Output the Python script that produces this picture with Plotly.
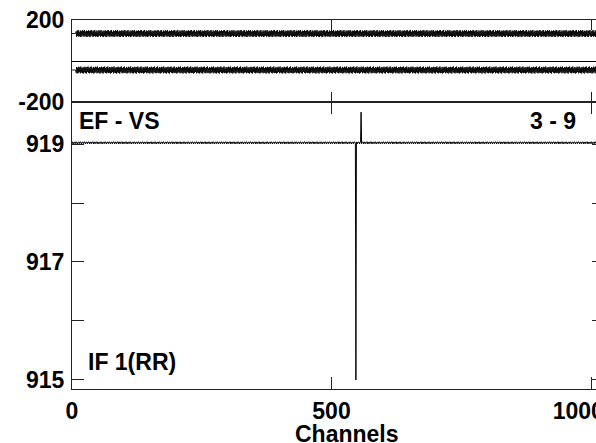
import plotly.graph_objects as go

# ---------------- data ----------------
N_CHANNELS = 1024
channels = list(range(N_CHANNELS))

# phase panel (degrees): two baselines with a dense channel-to-channel ripple
PHASE_A_LEVEL = 134
PHASE_B_LEVEL = -44
PHASE_RIPPLE = [16, -15, 12, -17, 15, -9, 17, -14, 10, -16, 14, -12, 17, -15, 8, -13,
                15, -17, 11, -14, 16, -10, 13, -16, 17, -12, 9, -15, 14, -17, 12, -11]
PHASE_FLAT_LEAD = 8          # first channels without ripple

# amplitude panel
AMP_LEVEL = 919.03
AMP_RIPPLE = [0.0, 0.005, -0.03, 0.0, 0.004, 0.0, -0.025, 0.003]
SPIKE_CHANNELS = [547, 557]
SPIKE_VALUES = [915.0, 919.54]

X_TICKS = [0, 500, 1000]
X_TICK_TEXT = ["0", "500", "1000\u2007\u2007"]
AMP_TICKS = [915, 916, 917, 918, 919]
AMP_TICK_TEXT = ["915", "", "917", "", "919"]
PHASE_TICKS = [-200, 200]
PHASE_TICK_TEXT = ["-200", "200"]

# ---------------- build series ----------------
phase_a = [PHASE_A_LEVEL + (0 if c < PHASE_FLAT_LEAD else PHASE_RIPPLE[c % len(PHASE_RIPPLE)]) for c in channels]
phase_b = [PHASE_B_LEVEL + (0 if c < PHASE_FLAT_LEAD else PHASE_RIPPLE[(c + 7) % len(PHASE_RIPPLE)]) for c in channels]
amp = [AMP_LEVEL + AMP_RIPPLE[c % len(AMP_RIPPLE)] for c in channels]
for ch, v in zip(SPIKE_CHANNELS, SPIKE_VALUES):
    amp[ch] = v

FONT = "Liberation Sans, Arial, Helvetica, sans-serif"
tickfont = dict(family=FONT, size=23, color="black", weight="bold")
LINE = "#222222"

fig = go.Figure()
fig.add_trace(go.Scatter(x=channels, y=phase_a, xaxis="x2", yaxis="y2", mode="lines",
                         line=dict(color="black", width=0.9), showlegend=False, hoverinfo="skip"))
fig.add_trace(go.Scatter(x=channels, y=phase_b, xaxis="x2", yaxis="y2", mode="lines",
                         line=dict(color="black", width=0.9), showlegend=False, hoverinfo="skip"))
fig.add_trace(go.Scatter(x=channels, y=amp, xaxis="x", yaxis="y", mode="lines",
                         line=dict(color="black", width=1), showlegend=False, hoverinfo="skip"))
# invisible trace for right-side tick axis
fig.add_trace(go.Scatter(x=[0], y=[917], xaxis="x", yaxis="y3", mode="markers",
                         marker=dict(opacity=0), showlegend=False, hoverinfo="skip"))

XR = [0, 1009.6]
top_split = (389 - 102) / 369

fig.update_layout(
    width=596, height=443,
    margin=dict(l=72, r=0, t=20, b=54),
    paper_bgcolor="white", plot_bgcolor="white",
    xaxis=dict(domain=[0, 1], anchor="y", range=XR, tickvals=X_TICKS, ticktext=X_TICK_TEXT,
               ticks="inside", ticklen=12, tickcolor=LINE, showline=True, linecolor=LINE,
               linewidth=1, mirror="ticks", showgrid=False, zeroline=False,
               tickfont=tickfont, ticklabelstandoff=1, ticklabeloverflow="allow",
               automargin=False),
    yaxis=dict(domain=[0, top_split], anchor="x", range=[914.847, 919.712],
               tickvals=AMP_TICKS, ticktext=AMP_TICK_TEXT, ticks="inside", ticklen=12,
               tickcolor=LINE, showline=True, linecolor=LINE, linewidth=1, mirror=False,
               showgrid=False, zeroline=False, tickfont=tickfont, ticklabelstandoff=2,
               automargin=False),
    yaxis3=dict(overlaying="y", side="right", anchor="x", range=[914.847, 919.712],
                tickvals=AMP_TICKS, ticks="inside", ticklen=4, tickcolor=LINE,
                showticklabels=False, showline=False, showgrid=False, zeroline=False),
    xaxis2=dict(domain=[0, 1], anchor="y2", range=XR, matches="x", tickvals=X_TICKS,
                showticklabels=False, ticks="inside", ticklen=10, tickcolor=LINE,
                showline=True, linecolor=LINE, linewidth=1, mirror="ticks",
                showgrid=False, zeroline=False),
    yaxis2=dict(domain=[top_split, 1], anchor="x2", range=[-200, 200],
                tickvals=PHASE_TICKS, ticktext=PHASE_TICK_TEXT, ticks="inside", ticklen=12,
                tickcolor=LINE, showline=True, linecolor=LINE, linewidth=1, mirror=False,
                showgrid=False, zeroline=True, zerolinecolor="black", zerolinewidth=1,
                tickfont=tickfont, ticklabelstandoff=2, automargin=False),
    annotations=[
        dict(text="EF - VS", xref="paper", yref="paper", x=(77 - 72) / 524, y=(389 - 121) / 369,
             xanchor="left", yanchor="middle", showarrow=False, font=tickfont),
        dict(text="3 - 9", xref="paper", yref="paper", x=(578 - 72) / 524, y=(389 - 121) / 369,
             xanchor="right", yanchor="middle", showarrow=False, font=tickfont),
        dict(text="IF 1(RR)", xref="paper", yref="paper", x=(86 - 72) / 524, y=(389 - 361.7) / 369,
             xanchor="left", yanchor="middle", showarrow=False, font=tickfont),
        dict(text="Channels", xref="paper", yref="paper", x=(347 - 72) / 524, y=(389 - 434) / 369,
             xanchor="center", yanchor="middle", showarrow=False, font=tickfont, borderpad=0),
    ],
)

fig.write_html(
    "out.html",
    config={"displayModeBar": False},
    post_script="document.body.style.margin='0';document.body.style.overflow='hidden';",
)
